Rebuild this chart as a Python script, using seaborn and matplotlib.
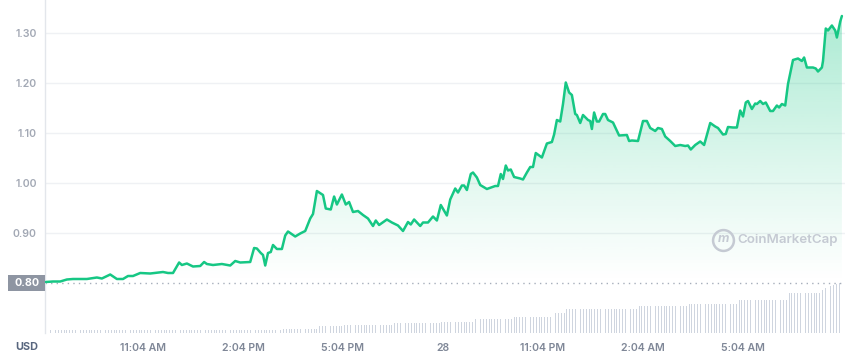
import numpy as np
import pandas as pd
import seaborn as sns
import matplotlib.pyplot as plt
import matplotlib.transforms as mtransforms
from matplotlib.patches import PathPatch, Rectangle

# minutes after 08:04 AM, price in USD
minutes = [5, 18, 31, 43, 54, 79, 97, 106, 121, 133, 144, 153, 162, 175, 193, 216, 225, 234,
           245, 250, 259, 270, 283, 290, 295, 306, 322, 337, 346, 355,
           373, 380, 385, 392, 396, 400, 405, 410, 414, 421, 430, 436, 441, 454, 463, 472,
           481, 486, 493, 504, 509, 518, 524, 529, 538, 545, 551, 558, 567, 576, 585, 594,
           599, 605, 619, 628, 639, 648, 657, 662, 668, 679, 684, 693, 702, 709, 716, 727,
           733, 742, 747, 754, 758, 763, 770, 774, 781, 787, 799, 814, 819, 824, 828, 833,
           837, 842, 848, 859, 864, 871, 877, 882, 887, 898, 907, 916, 920, 925, 931, 936,
           941, 947, 952, 958, 961, 967, 972, 981, 985, 988, 992, 997, 1001, 1008, 1012,
           1017, 1026, 1037, 1051, 1055, 1060, 1071, 1080, 1087, 1093, 1102, 1107, 1114,
           1120, 1129, 1138, 1147, 1156, 1161, 1166, 1174, 1183, 1190, 1201, 1210, 1215,
           1224, 1229, 1233, 1242, 1249, 1255, 1260, 1265, 1269, 1276, 1282, 1285, 1291,
           1296, 1301, 1309, 1314, 1321, 1325, 1330, 1336, 1341, 1350, 1359, 1366, 1370,
           1375, 1386, 1391, 1395, 1402, 1404, 1409, 1413, 1420, 1426, 1429, 1435, 1438]
price = [0.802, 0.803, 0.803, 0.807, 0.808, 0.808, 0.811, 0.809, 0.817, 0.808, 0.808, 0.814,
         0.814, 0.820, 0.819, 0.822, 0.820, 0.820, 0.841, 0.836, 0.839, 0.833, 0.834, 0.842,
         0.838, 0.836, 0.838, 0.835, 0.844, 0.841,
         0.842, 0.870, 0.869, 0.860, 0.856, 0.835, 0.860, 0.862, 0.876, 0.868, 0.868, 0.895,
         0.903, 0.893, 0.899, 0.904, 0.929, 0.938, 0.984, 0.976, 0.949, 0.947, 0.973, 0.957,
         0.977, 0.957, 0.962, 0.942, 0.944, 0.936, 0.929, 0.914, 0.925, 0.916, 0.927, 0.921,
         0.915, 0.904, 0.922, 0.917, 0.927, 0.914, 0.921, 0.921, 0.933, 0.925, 0.956, 0.935,
         0.967, 0.989, 0.981, 0.995, 0.995, 0.986, 1.018, 1.021, 1.011, 0.996, 0.988, 0.994,
         0.994, 1.018, 1.008, 1.035, 1.025, 1.027, 1.012, 1.009, 1.007, 1.021, 1.032, 1.032,
         1.060, 1.051, 1.079, 1.082, 1.097, 1.126, 1.123, 1.158, 1.201, 1.181, 1.176, 1.138,
         1.136, 1.120, 1.136, 1.126, 1.124, 1.108, 1.141, 1.123, 1.123, 1.138, 1.138, 1.126,
         1.121, 1.095, 1.096, 1.084, 1.085, 1.084, 1.124, 1.124, 1.110, 1.104, 1.110, 1.108,
         1.093, 1.084, 1.074, 1.076, 1.074, 1.075, 1.067, 1.076, 1.083, 1.076, 1.120, 1.113,
         1.110, 1.097, 1.098, 1.112, 1.111, 1.111, 1.145, 1.133, 1.161, 1.164, 1.148, 1.159,
         1.158, 1.164, 1.158, 1.161, 1.144, 1.144, 1.155, 1.151, 1.158, 1.155, 1.198, 1.246,
         1.249, 1.244, 1.251, 1.231, 1.231, 1.229, 1.223, 1.231, 1.244, 1.309, 1.305, 1.315,
         1.305, 1.291, 1.323, 1.334]

# volume bars, one every 5 minutes (relative heights, run-length)
volume = ([2.7] * 71 + [3.3] * 13 + [4.3] * 13 + [6.7] * 9 + [8.3] * 18 + [9.7] * 17
          + [11.3] * 12 + [14] * 14 + [16.7] * 14 + [20] * 5 + [24.7] * 26 + [28] * 18
          + [30] * 18 + [34] * 18 + [40.7] * 12 + [44, 46, 47, 48, 49, 50, 51])

tick_pos = [180, 360, 540, 720, 900, 1080, 1260]
tick_labels = ["11:04 AM", "2:04 PM", "5:04 PM", "28", "11:04 PM", "2:04 AM", "5:04 AM"]
ytick_vals = [0.90, 1.00, 1.10, 1.20, 1.30]
ref_price = 0.80

df = pd.DataFrame({"minute": minutes, "price": price})
vol_t = 13 + 5 * np.arange(len(volume))

green = "#16c784"

sns.set_theme(style="white")
plt.rcParams["font.family"] = ["Inter", "DejaVu Sans"]

fig = plt.figure(figsize=(8.53, 3.55), dpi=100)
ax = fig.add_axes([45 / 853, 22 / 355, 800 / 853, 333 / 355])
xmin, xmax = 3.6, 1443.6
ymin, ymax = 0.70, 1.366

# volume on a twin axis, kept in the lower strip
ax2 = ax.twinx()
ax2.bar(vol_t, volume, width=1.6, color="#cfd5df", linewidth=0, zorder=1)
ax2.set_ylim(0, max(volume) * 333 / 50)
ax2.set_yticks([])
for s in ax2.spines.values():
    s.set_visible(False)
ax.set_zorder(ax2.get_zorder() + 1)
ax.patch.set_visible(False)

# gradient fill under price line
poly = ax.fill_between(df["minute"], df["price"], ymin, color="none", lw=0)
clip = PathPatch(poly.get_paths()[0], transform=ax.transData, facecolor="none", edgecolor="none")
ax.add_patch(clip)
yy = np.linspace(ymax, ymin, 300)
alpha = np.clip((yy - 0.80) / (1.34 - 0.80), 0, 1) ** 1.1 * 0.36
rgba = np.zeros((300, 1, 4))
rgba[..., 0], rgba[..., 1], rgba[..., 2] = 22 / 255, 199 / 255, 132 / 255
rgba[:, 0, 3] = alpha
im = ax.imshow(rgba, extent=[xmin, xmax, ymin, ymax], aspect="auto", zorder=1)
im.set_clip_path(clip)

sns.lineplot(data=df, x="minute", y="price", ax=ax, color=green, linewidth=1.8, zorder=3)

for v in ytick_vals:
    ax.axhline(v, color="#eff1f4", lw=1, zorder=0)
ax.axhline(ref_price, color="#a6aebb", lw=1, ls=(0, (1, 3)), zorder=2)

ax.set_xlim(xmin, xmax)
ax.set_ylim(ymin, ymax)
ax.set_xticks(tick_pos)
ax.set_xticklabels(tick_labels)
ax.set_yticks(ytick_vals)
ax.set_yticklabels([f"{v:.2f}" for v in ytick_vals])
ax.tick_params(axis="x", length=3, width=1, color="#b8bfca", pad=4,
               labelsize=7.6, labelcolor="#7f8797")
ax.tick_params(axis="y", length=0, pad=6, labelsize=7.6, labelcolor="#a2a8b4")
for lab in ax.get_xticklabels() + ax.get_yticklabels():
    lab.set_fontweight("semibold")
ax.set_xlabel("")
ax.set_ylabel("")
for name in ["top", "right", "bottom"]:
    ax.spines[name].set_visible(False)
ax.spines["left"].set_color("#e3e6eb")
ax.spines["left"].set_linewidth(1)

# current-reference price box
blend = mtransforms.blended_transform_factory(ax.transAxes, ax.transData)
ax.add_patch(Rectangle((-0.046, ref_price - 0.016), 0.046, 0.032, transform=blend,
                       facecolor="#8e95a2", edgecolor="none", clip_on=False, zorder=5))
ax.text(-0.023, ref_price, f"{ref_price:.2f}", transform=blend, ha="center", va="center",
        color="white", fontsize=7.8, fontweight="bold", zorder=6)

fig.text(38 / 853, 8 / 355, "USD", ha="right", va="center", fontsize=7.8,
         fontweight="bold", color="#58667e")

# watermark
wm = "#c5cad3"
ax.plot(0.8475, 0.279, marker="o", ms=15, mfc="none", mec=wm, mew=1.8,
        transform=ax.transAxes, zorder=4)
ax.text(0.8475, 0.281, "m", transform=ax.transAxes, ha="center", va="center",
        fontsize=9, fontweight="bold", style="italic", color=wm, zorder=4)
ax.text(0.866, 0.279, "CoinMarketCap", transform=ax.transAxes, ha="left", va="center",
        fontsize=9.6, fontweight="semibold", color=wm, zorder=4)

fig.savefig("out.png", dpi=100)
